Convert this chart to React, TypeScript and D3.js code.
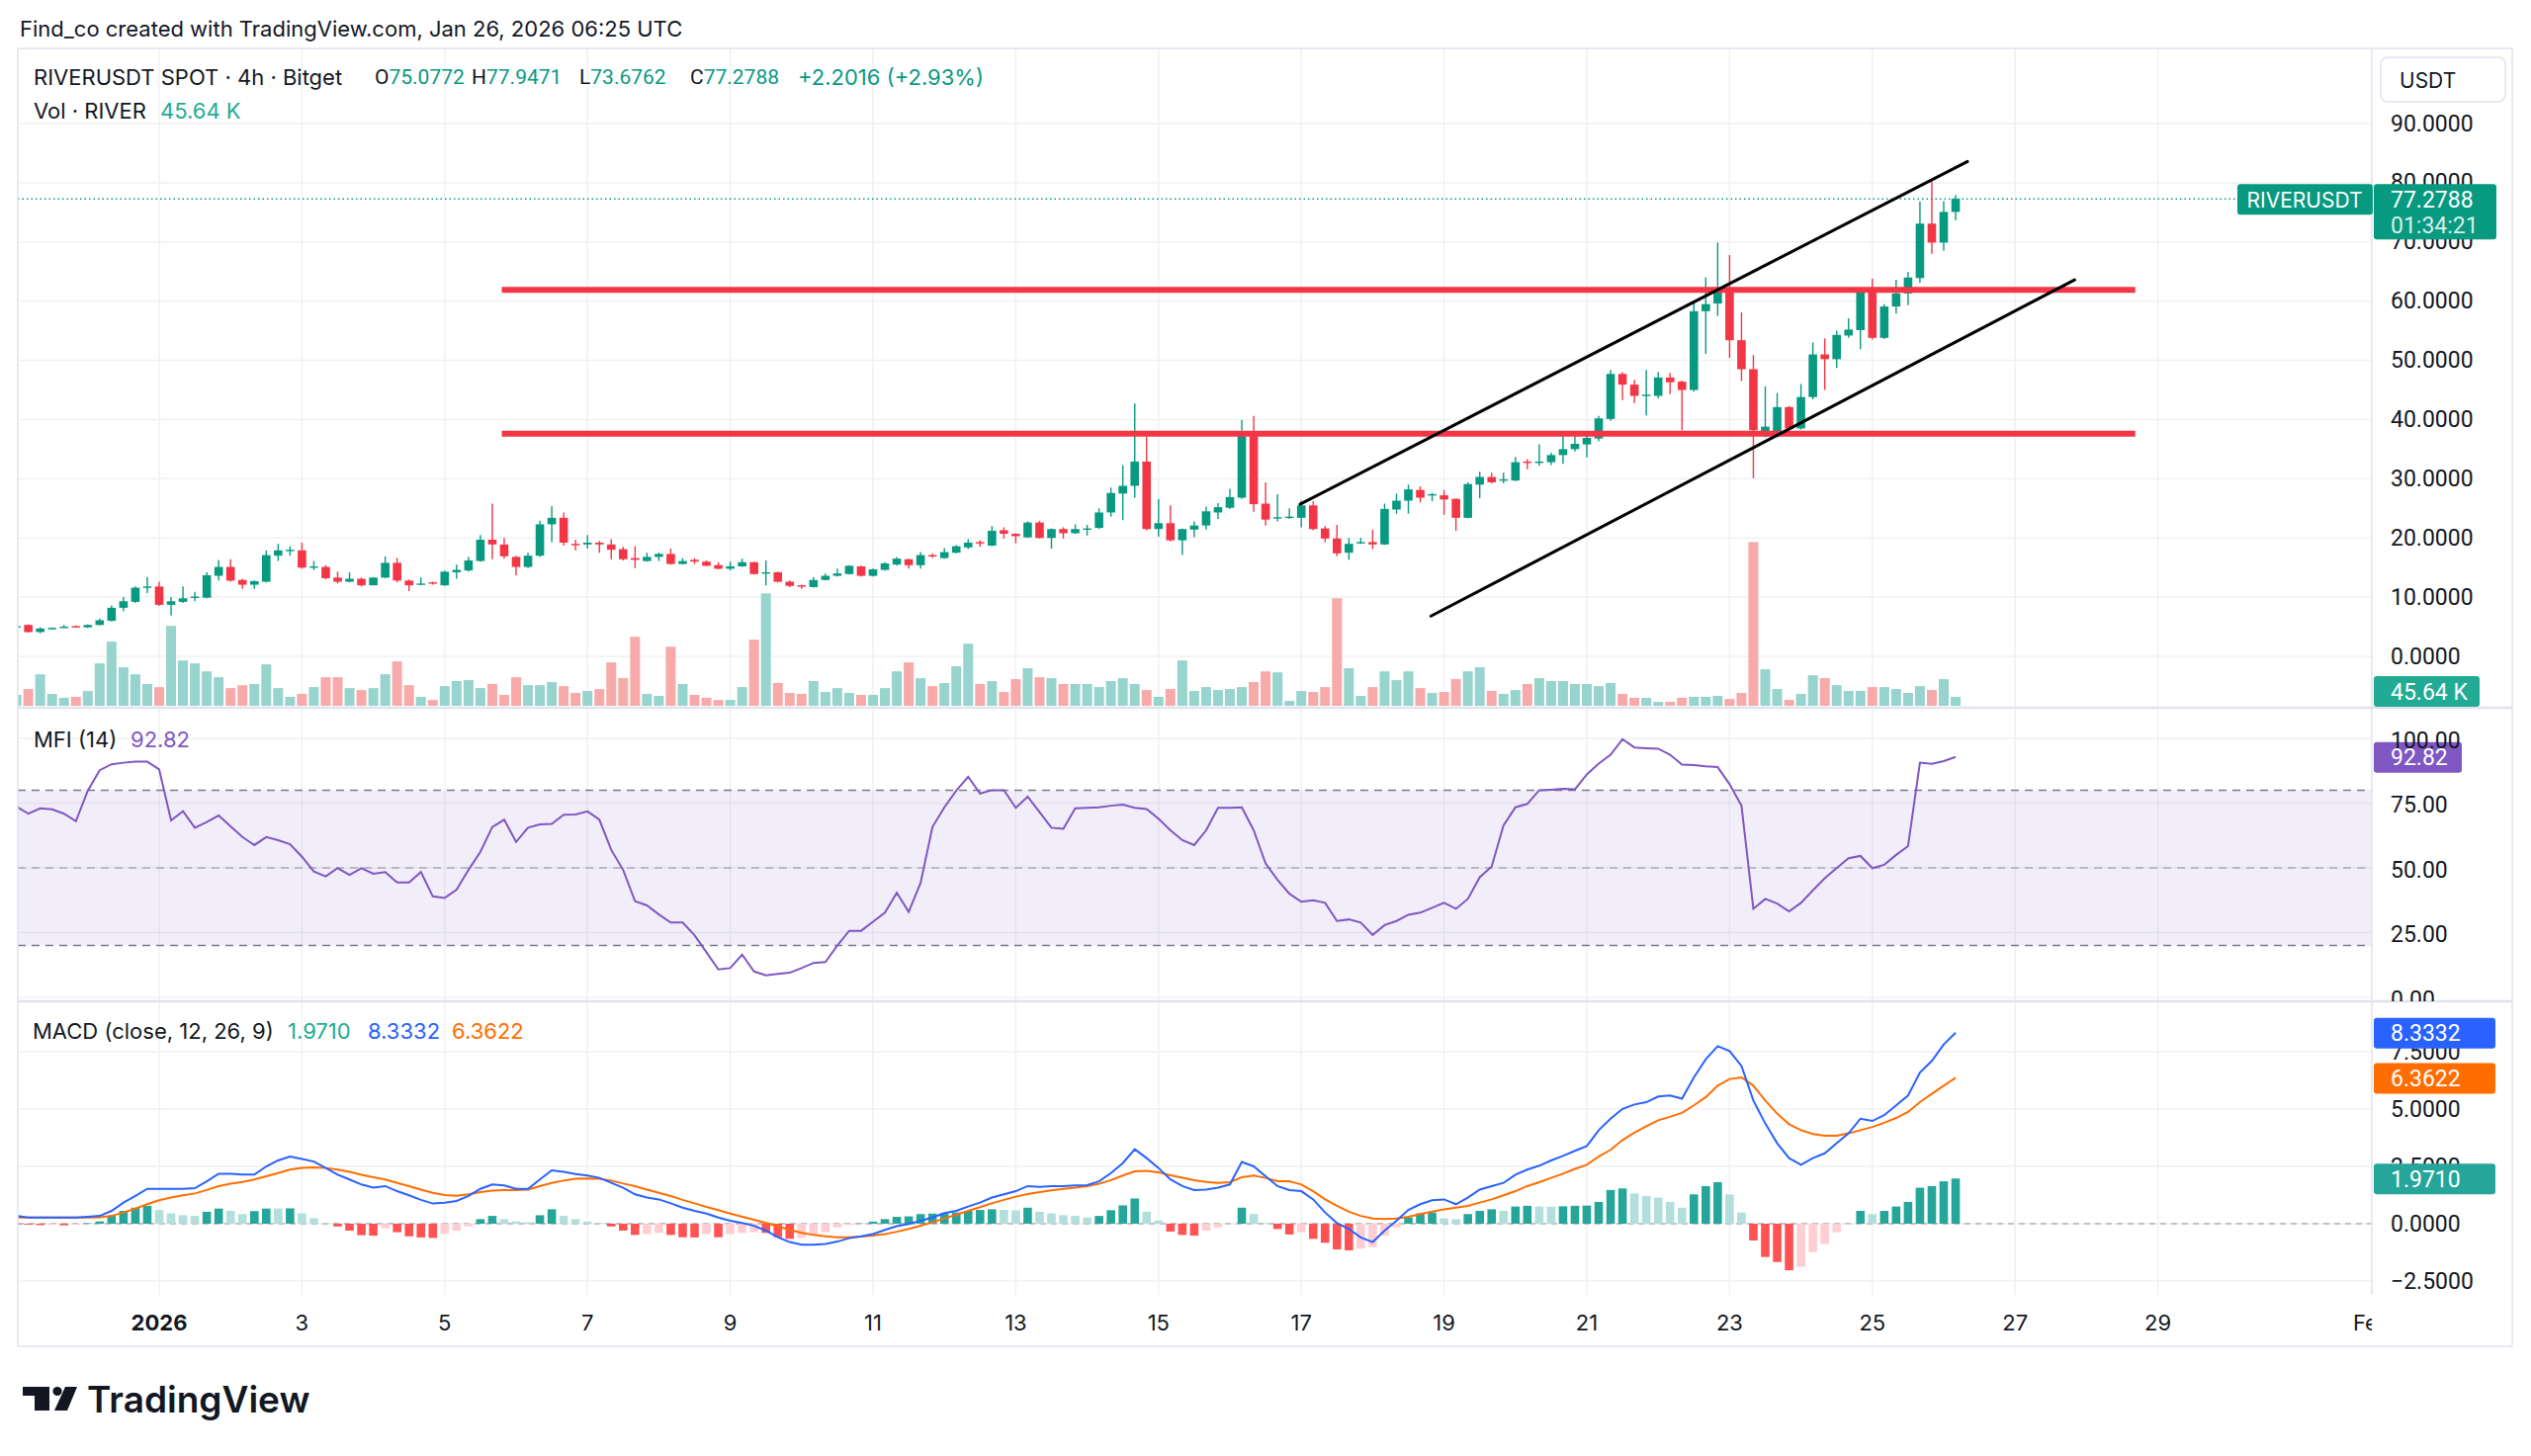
import React, { useEffect, useRef } from 'react'
import * as d3 from 'd3'

// RIVERUSDT spot, 4h bars starting Dec 30 2025 00:00 UTC
const firstBar = Date.UTC(2025, 11, 30)
const barMs = 4 * 3600 * 1000

const opens = [
  5.0, 5.3, 4.1, 4.7, 4.9, 5.1, 4.9, 5.3, 6.0, 8.2,
  9.2, 11.6, 11.8, 8.7, 9.2, 9.9, 9.9, 13.6, 15.1, 12.9,
  12.1, 12.6, 17.0, 17.8, 17.9, 15.0, 15.1, 13.3, 12.6, 13.1,
  12.0, 13.3, 15.8, 12.8, 12.2, 12.5, 12.0, 14.2, 14.5, 16.1,
  19.7, 18.9, 16.8, 15.1, 17.0, 22.3, 23.4, 19.0, 18.9, 19.2,
  18.9, 18.1, 16.6, 16.1, 16.8, 17.3, 15.6, 16.3, 16.0, 15.4,
  14.8, 15.2, 15.9, 14.0, 14.2, 12.6, 12.0, 11.7, 12.9, 13.6,
  13.9, 15.2, 13.6, 14.6, 15.5, 16.4, 15.4, 17.1, 16.6, 17.5,
  18.4, 19.3, 18.7, 21.3, 20.7, 20.1, 22.6, 20.0, 21.5, 20.8,
  21.4, 21.7, 24.3, 27.5, 28.8, 32.9, 21.5, 22.5, 19.6, 21.4,
  22.1, 24.3, 25.1, 26.8, 37.5, 25.8, 23.3, 23.5, 23.4, 25.5,
  21.6, 19.9, 17.5, 19.2, 19.3, 18.9, 24.8, 26.3, 28.1, 27.2,
  27.2, 26.6, 23.4, 29.0, 30.3, 29.8, 29.7, 32.9, 32.8, 32.8,
  34.0, 35.0, 35.8, 36.8, 40.1, 47.7, 45.9, 44.1, 44.0, 47.1,
  46.4, 45.0, 58.3, 59.6, 61.6, 53.4, 48.5, 37.3, 37.6, 42.1,
  38.5, 43.8, 51.0, 50.2, 54.2, 55.1, 61.5, 53.8, 59.1, 61.3,
  63.9, 73.1, 69.9, 75.0772,
]
const highs = [
  5.2, 5.4, 4.9, 4.9, 5.3, 5.2, 5.4, 6.4, 8.6, 10.0,
  11.8, 13.4, 12.6, 10.0, 11.8, 10.9, 14.2, 16.3, 16.4, 13.1,
  12.8, 17.9, 19.0, 18.6, 19.2, 16.1, 15.4, 14.3, 14.2, 13.3,
  13.4, 16.9, 16.6, 13.0, 13.3, 12.6, 14.5, 15.5, 16.8, 20.5,
  25.8, 20.0, 17.0, 17.5, 22.9, 25.4, 24.3, 19.7, 20.5, 19.5,
  19.8, 18.5, 18.6, 17.5, 17.5, 18.2, 16.6, 16.6, 16.2, 15.9,
  16.0, 16.5, 16.0, 16.2, 14.3, 12.8, 12.1, 13.4, 14.0, 14.8,
  15.4, 15.3, 14.8, 15.9, 16.8, 16.5, 17.6, 17.4, 18.3, 18.8,
  19.8, 19.6, 22.0, 21.8, 20.8, 22.8, 22.9, 21.6, 21.8, 22.3,
  22.2, 25.0, 28.5, 32.3, 42.7, 37.1, 26.6, 25.5, 21.6, 22.8,
  25.3, 25.9, 28.3, 39.9, 40.6, 29.4, 27.4, 25.0, 26.3, 26.2,
  22.0, 22.2, 20.0, 20.0, 21.4, 25.8, 27.5, 29.0, 28.7, 27.6,
  28.1, 26.7, 29.4, 31.2, 31.0, 31.0, 33.7, 33.3, 35.8, 34.4,
  38.0, 37.5, 37.6, 40.6, 48.4, 48.0, 46.7, 48.4, 48.0, 47.9,
  46.6, 59.9, 64.0, 69.9, 67.8, 58.1, 50.9, 45.6, 44.5, 42.3,
  46.0, 53.0, 53.7, 55.0, 57.1, 62.1, 63.8, 59.5, 63.6, 64.9,
  76.8, 80.2, 76.9, 77.9471,
]
const lows = [
  4.9, 4.0, 3.9, 4.6, 4.8, 4.9, 4.8, 5.2, 5.9, 7.6,
  9.0, 10.7, 8.5, 6.9, 9.0, 9.3, 9.8, 12.8, 12.6, 11.4,
  11.4, 12.5, 16.1, 17.0, 14.8, 14.6, 13.0, 12.3, 12.5, 11.8,
  12.0, 13.2, 12.5, 11.0, 12.1, 12.1, 11.9, 13.1, 14.3, 16.0,
  16.4, 16.5, 13.7, 14.9, 16.8, 19.3, 18.7, 17.9, 18.2, 17.5,
  16.4, 16.2, 14.9, 16.0, 16.1, 15.5, 15.5, 15.6, 15.2, 14.7,
  14.5, 15.1, 13.8, 12.0, 12.5, 11.7, 11.4, 11.6, 12.8, 13.5,
  13.8, 13.5, 13.5, 14.5, 15.3, 14.8, 14.8, 16.6, 16.5, 17.4,
  18.1, 18.5, 18.6, 19.9, 19.1, 20.0, 19.9, 18.2, 19.9, 20.7,
  20.4, 21.5, 23.6, 23.0, 26.8, 21.3, 20.2, 19.4, 17.1, 20.1,
  21.4, 23.2, 24.9, 26.6, 24.4, 22.1, 22.8, 23.2, 21.8, 21.3,
  19.3, 16.9, 16.3, 19.0, 18.1, 18.8, 24.1, 24.1, 26.0, 26.2,
  23.9, 21.2, 23.3, 26.7, 29.2, 29.2, 29.6, 31.6, 32.2, 32.3,
  32.5, 34.6, 33.6, 36.3, 39.8, 43.3, 42.8, 40.7, 43.6, 44.3,
  38.2, 44.7, 51.1, 57.5, 50.4, 46.5, 30.1, 37.0, 37.0, 38.0,
  38.3, 43.4, 45.0, 48.7, 53.8, 51.9, 53.5, 53.6, 57.9, 59.3,
  63.1, 68.0, 68.5, 73.6762,
]
const closes = [
  5.1, 4.1, 4.7, 4.8, 5.0, 4.95, 5.3, 6.1, 8.2, 9.3,
  11.6, 11.8, 8.7, 9.3, 9.8, 10.1, 13.7, 15.1, 12.8, 12.1,
  12.7, 17.1, 17.9, 18.0, 15.0, 15.2, 13.2, 12.6, 13.1, 12.0,
  13.3, 15.8, 12.8, 12.0, 12.3, 12.3, 14.3, 14.6, 16.2, 19.7,
  18.9, 16.9, 15.1, 17.0, 22.3, 23.4, 19.2, 18.9, 19.2, 18.9,
  18.0, 16.4, 16.3, 16.8, 17.3, 15.6, 16.1, 16.0, 15.3, 14.8,
  15.2, 15.9, 13.9, 14.2, 12.6, 11.9, 11.9, 12.9, 13.6, 14.0,
  15.3, 13.6, 14.7, 15.7, 16.5, 15.4, 17.1, 17.0, 17.6, 18.6,
  19.2, 19.2, 21.2, 20.7, 20.3, 22.6, 20.0, 21.5, 20.8, 21.5,
  21.6, 24.3, 27.6, 28.8, 32.9, 21.5, 22.5, 19.6, 21.5, 22.1,
  24.5, 25.2, 26.9, 37.5, 25.7, 23.1, 23.5, 23.6, 25.5, 21.5,
  19.9, 17.4, 19.0, 19.3, 18.9, 24.9, 26.3, 28.2, 26.8, 27.4,
  26.5, 23.4, 29.1, 30.3, 29.4, 29.9, 32.8, 32.7, 32.9, 34.0,
  35.0, 35.9, 36.9, 40.2, 47.7, 45.9, 44.0, 44.2, 47.1, 46.3,
  45.0, 58.3, 59.5, 61.6, 53.4, 48.5, 38.2, 38.8, 42.1, 38.5,
  43.8, 51.0, 50.2, 54.3, 55.2, 61.5, 53.8, 59.1, 61.3, 64.0,
  73.1, 69.9, 75.0772, 77.2788,
]
// volume in thousands of RIVER
const volumes = [
  56, 86, 162, 61, 41, 46, 76, 218, 330, 198,
  162, 112, 96, 411, 233, 218, 177, 147, 91, 106,
  112, 213, 91, 46, 61, 96, 147, 147, 91, 81,
  91, 162, 228, 106, 46, 30, 101, 127, 132, 91,
  112, 56, 147, 106, 106, 122, 101, 66, 76, 86,
  223, 142, 355, 61, 51, 304, 112, 56, 41, 30,
  30, 96, 340, 578, 117, 66, 61, 127, 71, 91,
  66, 56, 56, 91, 177, 223, 142, 101, 117, 203,
  319, 112, 127, 71, 137, 193, 147, 142, 112, 112,
  112, 96, 127, 142, 112, 81, 46, 86, 233, 76,
  96, 81, 86, 96, 122, 177, 172, 25, 76, 71,
  96, 553, 193, 51, 96, 177, 132, 177, 91, 66,
  71, 137, 177, 198, 76, 61, 81, 112, 142, 127,
  127, 112, 112, 101, 117, 61, 41, 41, 20, 20,
  41, 46, 46, 51, 35, 66, 842, 188, 86, 30,
  61, 157, 142, 106, 76, 76, 96, 96, 86, 66,
  101, 81, 137, 45.64,
]
const mfi = [
  73.7, 70.9, 73.0, 72.6, 70.9, 68.0, 79.8, 87.7, 90.0, 90.6,
  91.0, 91.0, 88.0, 68.3, 71.9, 65.5, 67.7, 70.2, 66.0, 61.9,
  58.8, 61.9, 60.7, 59.1, 54.3, 48.6, 46.7, 49.9, 47.3, 49.9,
  47.7, 48.4, 44.4, 44.4, 48.4, 39.0, 38.4, 41.6, 49.2, 56.2,
  65.8, 68.6, 60.0, 65.5, 66.8, 67.0, 70.5, 70.6, 71.8, 68.6,
  56.9, 49.2, 37.1, 35.5, 32.0, 28.9, 28.9, 24.0, 17.4, 10.8,
  11.3, 16.5, 10.0, 8.5, 9.1, 9.5, 11.3, 13.3, 13.6, 20.0,
  25.7, 25.7, 29.2, 32.7, 40.4, 33.0, 44.2, 65.8, 73.4, 79.8,
  85.2, 78.7, 80.0, 80.0, 73.2, 77.5, 71.5, 65.5, 65.1, 73.0,
  73.2, 73.4, 74.0, 74.4, 73.2, 72.7, 69.0, 64.5, 60.7, 58.8,
  64.5, 73.2, 73.2, 73.4, 64.5, 51.7, 45.4, 40.0, 36.9, 37.5,
  36.5, 29.5, 30.1, 28.9, 24.1, 27.9, 29.5, 31.9, 32.7, 34.6,
  36.5, 34.2, 38.0, 46.4, 50.5, 66.4, 73.4, 74.7, 80.0, 80.2,
  80.5, 80.3, 86.1, 90.3, 93.7, 99.7, 96.5, 96.2, 96.0, 93.7,
  89.9, 89.7, 89.2, 88.9, 82.3, 74.0, 34.2, 38.0, 36.2, 33.2,
  36.5, 41.3, 46.0, 49.9, 53.7, 54.6, 49.9, 51.2, 55.0, 58.4,
  90.6, 90.2, 91.2, 92.82,
]
const macd = [
  0.34, 0.27, 0.27, 0.27, 0.27, 0.27, 0.3, 0.34, 0.56, 0.92,
  1.21, 1.52, 1.52, 1.52, 1.52, 1.55, 1.85, 2.18, 2.18, 2.14,
  2.14, 2.5, 2.76, 2.93, 2.82, 2.71, 2.43, 2.14, 1.93, 1.71,
  1.57, 1.64, 1.42, 1.24, 1.04, 0.88, 0.92, 0.99, 1.21, 1.52,
  1.71, 1.67, 1.52, 1.52, 1.93, 2.33, 2.26, 2.17, 2.1, 2.0,
  1.78, 1.57, 1.28, 1.14, 1.06, 0.89, 0.7, 0.56, 0.44, 0.27,
  0.13, 0.03, -0.09, -0.3, -0.59, -0.8, -0.92, -0.92, -0.88, -0.78,
  -0.63, -0.55, -0.45, -0.27, -0.11, -0.01, 0.13, 0.27, 0.46, 0.56,
  0.75, 0.92, 1.14, 1.28, 1.42, 1.64, 1.61, 1.64, 1.64, 1.67,
  1.68, 1.85, 2.21, 2.64, 3.25, 2.86, 2.43, 1.93, 1.64, 1.47,
  1.49, 1.57, 1.71, 2.69, 2.5, 2.07, 1.64, 1.47, 1.42, 1.06,
  0.49, 0.03, -0.23, -0.6, -0.8, -0.3, 0.13, 0.6, 0.85, 1.02,
  1.06, 0.85, 1.14, 1.49, 1.64, 1.78, 2.14, 2.36, 2.53, 2.76,
  2.96, 3.18, 3.39, 4.08, 4.58, 5.01, 5.2, 5.3, 5.55, 5.59,
  5.45, 6.38, 7.17, 7.74, 7.53, 6.88, 5.37, 4.37, 3.51, 2.86,
  2.57, 2.86, 3.07, 3.51, 3.94, 4.58, 4.48, 4.73, 5.16, 5.59,
  6.59, 7.1, 7.82, 8.3332,
]
const signal = [
  0.27, 0.27, 0.27, 0.27, 0.27, 0.27, 0.27, 0.28, 0.34, 0.49,
  0.66, 0.85, 1.02, 1.14, 1.24, 1.32, 1.47, 1.64, 1.75, 1.82,
  1.93, 2.07, 2.21, 2.36, 2.44, 2.46, 2.43, 2.36, 2.26, 2.13,
  2.03, 1.93, 1.78, 1.64, 1.49, 1.35, 1.25, 1.22, 1.28, 1.38,
  1.44, 1.47, 1.47, 1.49, 1.64, 1.78, 1.88, 1.96, 1.97, 1.96,
  1.88, 1.75, 1.64, 1.49, 1.35, 1.21, 1.04, 0.89, 0.73, 0.59,
  0.44, 0.3, 0.17, 0.03, -0.11, -0.27, -0.4, -0.49, -0.55, -0.59,
  -0.59, -0.56, -0.52, -0.45, -0.35, -0.23, -0.09, 0.06, 0.23, 0.39,
  0.56, 0.72, 0.89, 1.04, 1.18, 1.29, 1.38, 1.45, 1.52, 1.57,
  1.64, 1.74, 1.9, 2.1, 2.28, 2.31, 2.24, 2.11, 2.0, 1.9,
  1.82, 1.78, 1.81, 2.03, 2.1, 2.0, 1.85, 1.85, 1.71, 1.42,
  1.06, 0.78, 0.52, 0.34, 0.23, 0.2, 0.23, 0.3, 0.42, 0.53,
  0.63, 0.7, 0.78, 0.92, 1.06, 1.24, 1.42, 1.64, 1.81, 2.0,
  2.18, 2.39, 2.57, 2.93, 3.22, 3.65, 3.97, 4.25, 4.51, 4.66,
  4.83, 5.16, 5.52, 6.02, 6.31, 6.38, 6.02, 5.37, 4.8, 4.34,
  4.08, 3.91, 3.84, 3.84, 3.94, 4.08, 4.22, 4.4, 4.61, 4.87,
  5.3, 5.66, 6.02, 6.3622,
]
const histogram = [
  -0.03, -0.04, -0.06, -0.05, -0.07, -0.03, 0.02, 0.1, 0.34, 0.56,
  0.7, 0.78, 0.6, 0.45, 0.37, 0.34, 0.52, 0.66, 0.56, 0.42,
  0.55, 0.66, 0.66, 0.67, 0.45, 0.24, 0.03, -0.12, -0.3, -0.5,
  -0.52, -0.2, -0.37, -0.55, -0.6, -0.62, -0.45, -0.3, -0.12, 0.2,
  0.34, 0.2, 0.1, 0.06, 0.37, 0.63, 0.34, 0.2, 0.09, 0.03,
  -0.12, -0.3, -0.49, -0.45, -0.4, -0.49, -0.59, -0.6, -0.45, -0.59,
  -0.45, -0.4, -0.37, -0.4, -0.59, -0.66, -0.62, -0.49, -0.37, -0.16,
  -0.06, 0.01, 0.09, 0.2, 0.3, 0.32, 0.42, 0.44, 0.45, 0.49,
  0.56, 0.6, 0.63, 0.6, 0.58, 0.7, 0.52, 0.45, 0.37, 0.34,
  0.27, 0.34, 0.59, 0.8, 1.1, 0.52, 0.14, -0.34, -0.49, -0.52,
  -0.3, -0.16, -0.01, 0.7, 0.42, 0.03, -0.23, -0.47, -0.37, -0.66,
  -0.83, -1.12, -1.16, -1.09, -1.02, -0.52, -0.16, 0.27, 0.45, 0.49,
  0.23, 0.2, 0.42, 0.56, 0.63, 0.56, 0.75, 0.78, 0.75, 0.74,
  0.76, 0.78, 0.79, 0.95, 1.47, 1.54, 1.32, 1.21, 1.14, 0.95,
  0.7, 1.28, 1.64, 1.81, 1.28, 0.49, -0.73, -1.45, -1.67, -2.03,
  -1.88, -1.24, -0.88, -0.37, -0.03, 0.56, 0.42, 0.56, 0.75, 0.95,
  1.57, 1.64, 1.85, 1.971,
]

const priceTicks = [0, 10, 20, 30, 40, 50, 60, 70, 80, 90]
const mfiTicks = [0, 25, 50, 75, 100]
const mfiBands = [80, 50, 20]
const macdTicks = [-2.5, 0, 2.5, 5, 7.5]
const dateTickDays = [1, 3, 5, 7, 9, 11, 13, 15, 17, 19, 21, 23, 25, 27, 29, 32]
const dateTickLabels = ['2026', '3', '5', '7', '9', '11', '13', '15', '17', '19', '21', '23', '25', '27', '29', 'Feb']

// drawings: horizontal levels and the rising channel, in bar index / price
const levelPrices = [61.9, 37.6]
const levelSpan = [40.8, 178.1]
const channelUpper = [[107.9, 25.7], [164.0, 83.6]]
const channelLower = [[118.9, 6.8], [173.0, 63.6]]

const FONT = 'Inter, Roboto, "Noto Sans", sans-serif'
const NUM_FONT = 'Roboto, "Noto Sans", sans-serif'
const INK = '#131722'
const GRID = '#f0f1f3'
const EDGE = '#e0e3eb'
const UP = '#089981'
const DOWN = '#F23645'
const VOL_UP = '#97d4cd'
const VOL_DOWN = '#f7aaa9'

// frame
const PL = 18
const PR = 2399
const AR = 2541
const PT = 49
const PB = 716
const MB = 1013
const DB = 1310
const FB = 1362

function drawChart(node: SVGSVGElement) {
  const svg = d3.select(node)
  svg.selectAll('*').remove()

  const x = d3.scaleUtc()
    .domain([new Date(Date.UTC(2026, 0, 1)), new Date(Date.UTC(2026, 1, 1))])
    .range([161, 161 + 31 * 72.2])
  const bx = (i: number) => x(new Date(firstBar + i * barMs))

  const y = d3.scaleLinear().domain([0, 90]).range([664, 125])
  const yVol = d3.scaleLinear().domain([0, 900]).range([714, 537])
  const yMfi = d3.scaleLinear().domain([0, 100]).range([1009, 747])
  const yMacd = d3.scaleLinear().domain([-2.5, 7.5]).range([1296, 1064])

  const defs = svg.append('defs')
  const clip = (id: string, x0: number, y0: number, x1: number, y1: number) =>
    defs.append('clipPath').attr('id', id).append('rect')
      .attr('x', x0).attr('y', y0).attr('width', x1 - x0).attr('height', y1 - y0)
  clip('c-price', PL, PT, PR, PB)
  clip('c-mfi', PL, PB, PR, MB)
  clip('c-macd', PL, MB, PR, DB)
  clip('c-time', PL, DB, PR, FB)
  clip('c-ax-mfi', PR, PB + 1, AR, MB)

  const label = (g: any, str: string, tx: number, ty: number, size: number, color: string, weight = 400, family = FONT) =>
    g.append('text')
      .attr('x', tx).attr('y', ty)
      .attr('dominant-baseline', 'central')
      .attr('font-family', family)
      .attr('font-size', size)
      .attr('font-weight', weight)
      .attr('fill', color)
      .text(str)

  svg.append('rect').attr('width', 2560).attr('height', 1473).attr('fill', '#fff')

  // grid
  const grid = svg.append('g').attr('stroke', GRID).attr('stroke-width', 1.5)
  dateTickDays.forEach(d => {
    const gx = x(new Date(Date.UTC(2026, 0, d)))
    if (gx < PR) grid.append('line').attr('x1', gx).attr('x2', gx).attr('y1', PT).attr('y2', DB)
  })
  priceTicks.forEach(p => grid.append('line').attr('x1', PL).attr('x2', PR).attr('y1', y(p)).attr('y2', y(p)))
  mfiTicks.forEach(m => grid.append('line').attr('x1', PL).attr('x2', PR).attr('y1', yMfi(m)).attr('y2', yMfi(m)))
  macdTicks.forEach(v => grid.append('line').attr('x1', PL).attr('x2', PR).attr('y1', yMacd(v)).attr('y2', yMacd(v)))

  // price pane: volume, candles, drawings
  const pg = svg.append('g').attr('clip-path', 'url(#c-price)')
  const isUp = (i: number) => closes[i] >= opens[i]

  pg.append('g').selectAll('rect').data(volumes).join('rect')
    .attr('x', (_d, i) => bx(i) - 5)
    .attr('width', 10)
    .attr('y', d => yVol(d))
    .attr('height', d => yVol(0) - yVol(d))
    .attr('fill', (_d, i) => (isUp(i) ? VOL_UP : VOL_DOWN))

  const idx = d3.range(closes.length)
  pg.append('g').selectAll('line').data(idx).join('line')
    .attr('x1', i => bx(i)).attr('x2', i => bx(i))
    .attr('y1', i => y(highs[i])).attr('y2', i => y(lows[i]))
    .attr('stroke', i => (isUp(i) ? UP : DOWN))
    .attr('stroke-width', 1.4)
  pg.append('g').selectAll('rect').data(idx).join('rect')
    .attr('x', i => bx(i) - 4.3)
    .attr('width', 8.6)
    .attr('y', i => y(Math.max(opens[i], closes[i])))
    .attr('height', i => Math.max(1.4, Math.abs(y(opens[i]) - y(closes[i]))))
    .attr('fill', i => (isUp(i) ? UP : DOWN))

  // last price dotted line
  const lastClose = closes[closes.length - 1]
  pg.append('line')
    .attr('x1', PL).attr('x2', 2263)
    .attr('y1', y(lastClose)).attr('y2', y(lastClose))
    .attr('stroke', UP).attr('stroke-width', 1.5).attr('stroke-dasharray', '1.5,3')

  levelPrices.forEach(p => {
    pg.append('line')
      .attr('x1', bx(levelSpan[0])).attr('x2', bx(levelSpan[1]))
      .attr('y1', y(p)).attr('y2', y(p))
      .attr('stroke', DOWN).attr('stroke-width', 6)
  })
  const chLine = d3.line<number[]>().x(d => bx(d[0])).y(d => y(d[1]))
  ;[channelUpper, channelLower].forEach(c => {
    pg.append('path').attr('d', chLine(c)).attr('stroke', '#000').attr('stroke-width', 3)
      .attr('fill', 'none').attr('stroke-linecap', 'round')
  })

  // MFI pane
  const mg = svg.append('g').attr('clip-path', 'url(#c-mfi)')
  mg.append('rect')
    .attr('x', PL).attr('width', PR - PL)
    .attr('y', yMfi(80)).attr('height', yMfi(20) - yMfi(80))
    .attr('fill', 'rgba(126,87,194,0.1)')
  mfiBands.forEach(b => {
    mg.append('line')
      .attr('x1', PL).attr('x2', PR).attr('y1', yMfi(b)).attr('y2', yMfi(b))
      .attr('stroke', b === 50 ? 'rgba(120,123,134,0.55)' : '#787b86')
      .attr('stroke-width', 1.5).attr('stroke-dasharray', '8,6')
  })
  mg.append('path')
    .attr('d', d3.line<number>().x((_d, i) => bx(i)).y(d => yMfi(d))(mfi))
    .attr('fill', 'none').attr('stroke', '#7E57C2').attr('stroke-width', 2)

  // MACD pane
  const cg = svg.append('g').attr('clip-path', 'url(#c-macd)')
  cg.append('line')
    .attr('x1', PL).attr('x2', PR).attr('y1', yMacd(0)).attr('y2', yMacd(0))
    .attr('stroke', 'rgba(120,123,134,0.55)').attr('stroke-width', 1.5).attr('stroke-dasharray', '6,5')
  const histColor = (h: number, i: number) => {
    const prev = i > 0 ? histogram[i - 1] : h
    if (h >= 0) return h > prev ? '#26A69A' : '#B2DFDB'
    return h > prev ? '#FFCDD2' : '#FF5252'
  }
  cg.append('g').selectAll('rect').data(histogram).join('rect')
    .attr('x', (_d, i) => bx(i) - 4.3)
    .attr('width', 8.6)
    .attr('y', d => yMacd(Math.max(0, d)))
    .attr('height', d => Math.abs(yMacd(d) - yMacd(0)))
    .attr('fill', (d, i) => histColor(d, i))
  const seriesLine = d3.line<number>().x((_d, i) => bx(i)).y(d => yMacd(d))
  cg.append('path').attr('d', seriesLine(signal)).attr('fill', 'none').attr('stroke', '#FF6D00').attr('stroke-width', 2)
  cg.append('path').attr('d', seriesLine(macd)).attr('fill', 'none').attr('stroke', '#2962FF').attr('stroke-width', 2)

  // frame, separators
  const fr = svg.append('g').attr('stroke', EDGE).attr('fill', 'none')
  fr.append('rect').attr('x', PL).attr('y', PT).attr('width', AR - PL).attr('height', FB - PT).attr('stroke-width', 1.5)
  fr.append('line').attr('x1', PR).attr('x2', PR).attr('y1', PT).attr('y2', DB).attr('stroke-width', 1.5)
  ;[PB, MB].forEach(s => fr.append('line').attr('x1', PL).attr('x2', AR).attr('y1', s).attr('y2', s).attr('stroke-width', 2.5))

  // right axis labels
  const ax = svg.append('g')
  priceTicks.forEach(p => label(ax, p.toFixed(4), 2418, y(p), 23, INK, 400, NUM_FONT))
  const axm = svg.append('g').attr('clip-path', 'url(#c-ax-mfi)')
  mfiTicks.forEach(m => label(axm, m.toFixed(2), 2418, yMfi(m) + 2, 23, INK, 400, NUM_FONT))
  macdTicks.forEach(v => label(ax, (v < 0 ? '\u2212' : '') + Math.abs(v).toFixed(4), 2418, yMacd(v), 23, INK, 400, NUM_FONT))

  // USDT unit button
  ax.append('rect').attr('x', 2408).attr('y', 58).attr('width', 126).attr('height', 45).attr('rx', 7)
    .attr('fill', '#fff').attr('stroke', EDGE).attr('stroke-width', 1.5)
  label(ax, 'USDT', 2427, 81, 21, INK)

  // value tags
  const tag = (tx: number, ty: number, w: number, h: number, fill: string) =>
    ax.append('rect').attr('x', tx).attr('y', ty).attr('width', w).attr('height', h).attr('rx', 3).attr('fill', fill)
  const yl = y(lastClose)
  tag(2263, yl - 15, 137, 31, UP)
  label(ax, 'RIVERUSDT', 2331, yl + 1, 21, '#fff').attr('text-anchor', 'middle')
  tag(2401, yl - 15, 124, 56, UP)
  label(ax, lastClose.toFixed(4), 2418, yl + 1, 23, '#fff', 400, NUM_FONT)
  label(ax, '01:34:21', 2418, yl + 27, 23, 'rgba(255,255,255,0.85)', 400, NUM_FONT)

  const lastVol = volumes[volumes.length - 1]
  const yv = Math.min(yVol(lastVol), PB - 17)
  tag(2401, yv - 15, 107, 31, '#22AB94')
  label(ax, `${lastVol.toFixed(2)} K`, 2418, yv + 1, 23, '#fff', 400, NUM_FONT)

  const lastMfi = mfi[mfi.length - 1]
  tag(2401, yMfi(lastMfi) - 15, 89, 31, '#7E57C2')
  label(ax, lastMfi.toFixed(2), 2418, yMfi(lastMfi) + 1, 23, '#fff', 400, NUM_FONT)

  const lastMacd = macd[macd.length - 1]
  const lastSignal = signal[signal.length - 1]
  const lastHist = histogram[histogram.length - 1]
  tag(2401, yMacd(lastMacd) - 15, 123, 31, '#2962FF')
  label(ax, lastMacd.toFixed(4), 2418, yMacd(lastMacd) + 1, 23, '#fff', 400, NUM_FONT)
  tag(2401, yMacd(lastSignal) - 15, 123, 31, '#FF6D00')
  label(ax, lastSignal.toFixed(4), 2418, yMacd(lastSignal) + 1, 23, '#fff', 400, NUM_FONT)
  tag(2401, yMacd(lastHist) - 15, 123, 31, '#26A69A')
  label(ax, lastHist.toFixed(4), 2418, yMacd(lastHist) + 1, 23, '#fff', 400, NUM_FONT)

  // time axis
  const tg = svg.append('g').attr('clip-path', 'url(#c-time)')
  dateTickDays.forEach((d, k) => {
    label(tg, dateTickLabels[k], x(new Date(Date.UTC(2026, 0, d))), 1338, 22, INK, k === 0 ? 700 : 400)
      .attr('text-anchor', 'middle')
  })

  // legends
  const lg = svg.append('g')
  label(lg, 'Find_co created with TradingView.com, Jan 26, 2026 06:25 UTC', 20, 29, 22, INK)
  label(lg, 'RIVERUSDT SPOT \u00b7 4h \u00b7 Bitget', 34, 78, 22, INK)
  const last = closes.length - 1
  const ohlc = [['O', opens[last]], ['H', highs[last]], ['L', lows[last]], ['C', closes[last]]]
  const ohlcX = [379, 477, 586, 698]
  ohlc.forEach(([k, v], j) => {
    const t = label(lg, '', ohlcX[j], 78, 21, INK, 400, NUM_FONT)
    t.append('tspan').text(k as string)
    t.append('tspan').attr('fill', UP).text((v as number).toFixed(4))
  })
  const chg = closes[last] - closes[last - 1]
  label(lg, `+${chg.toFixed(4)} (+${((chg / closes[last - 1]) * 100).toFixed(2)}%)`, 807, 78, 22, UP)
  label(lg, 'Vol \u00b7 RIVER', 34, 112, 22, INK)
  label(lg, `${lastVol.toFixed(2)} K`, 162, 112, 22, '#22AB94')

  label(lg, 'MFI (14)', 34, 748, 22, INK)
  label(lg, lastMfi.toFixed(2), 132, 748, 22, '#7E57C2')

  label(lg, 'MACD (close, 12, 26, 9)', 33, 1043, 22, INK)
  label(lg, lastHist.toFixed(4), 291, 1043, 22, '#22AB94')
  label(lg, lastMacd.toFixed(4), 372, 1043, 22, '#2962FF')
  label(lg, lastSignal.toFixed(4), 457, 1043, 22, '#FF6D00')

  // TradingView mark
  const logo = svg.append('g').attr('fill', INK)
  logo.append('path').attr('d', 'M23,1403 H50 V1427 H35 V1412 H23 Z')
  logo.append('circle').attr('cx', 58).attr('cy', 1407.5).attr('r', 4.6)
  logo.append('path').attr('d', 'M66,1403 H78 L68,1427 H55 Z')
  label(logo, 'TradingView', 88, 1415, 37, INK, 600)
}

export default function App() {
  const svgRef = useRef<SVGSVGElement | null>(null)

  useEffect(() => {
    if (svgRef.current) drawChart(svgRef.current)
  }, [])

  return (
    <svg
      ref={svgRef}
      width={2560}
      height={1473}
      style={{ position: 'absolute', left: 0, top: 0, display: 'block', background: '#fff' }}
    />
  )
}
